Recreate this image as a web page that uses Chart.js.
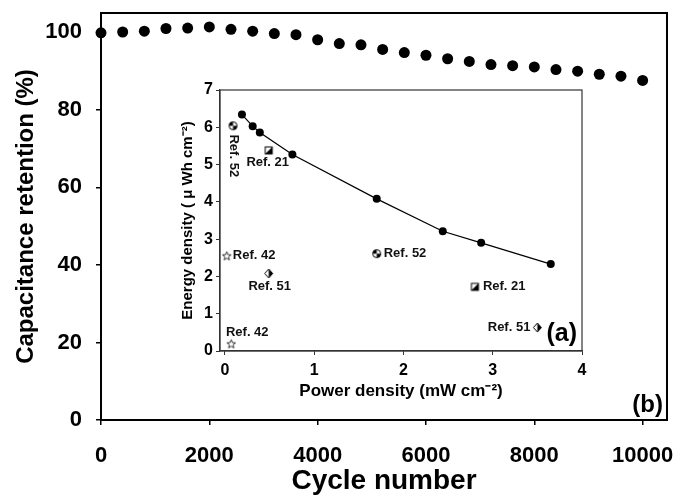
<!DOCTYPE html>
<html>
<head>
<meta charset="utf-8">
<script src="https://cdn.jsdelivr.net/npm/chart.js@4.4.1/dist/chart.umd.min.js"></script>
<style>
    body { margin: 0; background: #fff; }
    #main-box { position: absolute; left: 0; top: 0; width: 677px; height: 498px; }
    #inset-box { position: absolute; left: 160px; top: 80px; width: 430px; height: 330px; }
</style>
</head>
<body>
<div id="main-box"><canvas id="retention-chart"></canvas></div>
<div id="inset-box"><canvas id="ragone-chart"></canvas></div>
<script>
// main plot: capacitance retention vs cycle number
const cycles = [0, 400, 800, 1200, 1600, 2000, 2400, 2800, 3200, 3600, 4000, 4400, 4800,
    5200, 5600, 6000, 6400, 6800, 7200, 7600, 8000, 8400, 8800, 9200, 9600, 10000];
const retention = [99.9, 100.1, 100.3, 101.0, 101.1, 101.4, 100.8, 100.3, 99.7, 99.4, 98.1, 97.1, 96.8,
    95.6, 94.8, 94.1, 93.2, 92.5, 91.7, 91.4, 91.1, 90.4, 90.0, 89.2, 88.7, 87.6];
const cycleTicks = [0, 2000, 4000, 6000, 8000, 10000];
const retentionTicks = [0, 20, 40, 60, 80, 100];

// inset: energy density vs power density
const powerDensity = [0.19, 0.31, 0.39, 0.755, 1.70, 2.44, 2.87, 3.65];
const energyDensity = [6.34, 6.03, 5.86, 5.27, 4.08, 3.21, 2.90, 2.33];
const refNames = ['Ref. 52', 'Ref. 21', 'Ref. 42', 'Ref. 51', 'Ref. 42', 'Ref. 52', 'Ref. 21', 'Ref. 51'];
const refPower = [0.09, 0.49, 0.02, 0.49, 0.07, 1.70, 2.80, 3.50];
const refEnergy = [6.04, 5.38, 2.55, 2.08, 0.19, 2.61, 1.72, 0.63];
const refMarkers = ['ball', 'square', 'star', 'diamond', 'star', 'ball', 'square', 'diamond'];
const powerTicks = [0, 1, 2, 3, 4];
const energyTicks = [0, 1, 2, 3, 4, 5, 6, 7];

const FONT = "'Liberation Sans', Arial, sans-serif";

// where each ref label sits next to its marker (dx, dy, align, rotated)
const refLabelPlace = [
    { dx: 1, dy: 30, align: 'center', rot: true },
    { dx: -1, dy: 12, align: 'center' },
    { dx: 6, dy: 0, align: 'left' },
    { dx: 1, dy: 13, align: 'center' },
    { dx: 16, dy: -11, align: 'center' },
    { dx: 7, dy: 0, align: 'left' },
    { dx: 8, dy: 0, align: 'left' },
    { dx: -7, dy: 0, align: 'right' },
];

function makeMarker(kind) {
    const s = 11, m = s / 2;
    const c = document.createElement('canvas');
    c.width = s; c.height = s;
    const g = c.getContext('2d');
    g.strokeStyle = '#000';
    g.fillStyle = '#000';
    g.lineWidth = 1;
    if (kind === 'ball') {
        g.beginPath(); g.arc(m, m, 4, 0, Math.PI * 2); g.fillStyle = '#fff'; g.fill();
        g.fillStyle = '#000';
        g.beginPath(); g.moveTo(m, m); g.arc(m, m, 4, 0, Math.PI / 2); g.closePath(); g.fill();
        g.beginPath(); g.moveTo(m, m); g.arc(m, m, 4, Math.PI, Math.PI * 1.5); g.closePath(); g.fill();
        g.beginPath(); g.arc(m, m, 4, 0, Math.PI * 2); g.stroke();
    } else if (kind === 'square') {
        g.fillStyle = '#fff'; g.fillRect(2, 2, 7, 7);
        g.fillStyle = '#000';
        g.beginPath(); g.moveTo(9, 2); g.lineTo(9, 9); g.lineTo(2, 9); g.closePath(); g.fill();
        g.strokeRect(2, 2, 7, 7);
    } else if (kind === 'diamond') {
        g.beginPath(); g.moveTo(m, 1); g.lineTo(s - 1.5, m); g.lineTo(m, s - 1); g.lineTo(1.5, m); g.closePath();
        g.fillStyle = '#fff'; g.fill();
        g.fillStyle = '#000';
        g.beginPath(); g.moveTo(m, 1); g.lineTo(s - 1.5, m); g.lineTo(m, s - 1); g.closePath(); g.fill();
        g.beginPath(); g.moveTo(m, 1); g.lineTo(s - 1.5, m); g.lineTo(m, s - 1); g.lineTo(1.5, m); g.closePath(); g.stroke();
    } else {
        g.beginPath();
        for (let i = 0; i < 10; i++) {
            const r = i % 2 ? 2 : 4.5;
            const a = -Math.PI / 2 + i * Math.PI / 5;
            const px = m + r * Math.cos(a), py = m + 0.3 + r * Math.sin(a);
            i ? g.lineTo(px, py) : g.moveTo(px, py);
        }
        g.closePath();
        g.fillStyle = '#fff'; g.fill();
        g.lineWidth = 0.8; g.stroke();
    }
    return c;
}

// no automatic room for edge labels, layout padding decides the plot box
function noEdgePad(s) {
    s.paddingTop = 0; s.paddingBottom = 0; s.paddingLeft = 0; s.paddingRight = 0;
}

// full box around the plot area + panel letter
const frameBox = {
    id: 'frameBox',
    beforeDatasetsDraw(chart, args, opts) {
        const a = chart.chartArea, ctx = chart.ctx;
        ctx.save();
        ctx.strokeStyle = opts.color;
        ctx.lineWidth = opts.width;
        ctx.strokeRect(a.left, a.top, a.right - a.left, a.bottom - a.top);
        ctx.restore();
    },
    afterDatasetsDraw(chart, args, opts) {
        const a = chart.chartArea, ctx = chart.ctx;
        ctx.save();
        ctx.font = 'bold ' + opts.letterSize + 'px ' + FONT;
        ctx.fillStyle = '#000';
        ctx.textAlign = 'right';
        ctx.textBaseline = 'bottom';
        ctx.fillText(opts.letter, a.right - opts.letterDx, a.bottom - opts.letterDy);
        ctx.restore();
    }
};

const refLabels = {
    id: 'refLabels',
    afterDatasetsDraw(chart) {
        const meta = chart.getDatasetMeta(1);
        const ctx = chart.ctx;
        ctx.save();
        ctx.font = 'bold 13px ' + FONT;
        ctx.fillStyle = '#111';
        ctx.textBaseline = 'middle';
        meta.data.forEach((pt, i) => {
            const p = refLabelPlace[i];
            ctx.save();
            ctx.translate(pt.x + p.dx, pt.y + p.dy);
            if (p.rot) ctx.rotate(Math.PI / 2);
            ctx.textAlign = p.align;
            ctx.fillText(refNames[i], 0, 0);
            ctx.restore();
        });
        ctx.restore();
    }
};

new Chart(document.getElementById('retention-chart'), {
    type: 'scatter',
    data: {
        datasets: [{
            data: cycles.map((c, i) => ({ x: c, y: retention[i] })),
            backgroundColor: '#000',
            borderWidth: 0,
            pointRadius: 5.5,
            clip: false,
        }]
    },
    options: {
        responsive: true,
        maintainAspectRatio: false,
        animation: false,
        layout: { padding: { left: 12, top: 13, right: 10, bottom: 0 } },
        plugins: {
            legend: { display: false },
            tooltip: { enabled: false },
            frameBox: { color: '#000', width: 2, letter: '(b)', letterSize: 24, letterDx: 4, letterDy: 3 },
        },
        scales: {
            x: {
                type: 'linear', min: 0, max: 10450,
                afterFit: (s) => { s.height = 78; noEdgePad(s); },
                afterBuildTicks: (s) => { s.ticks = cycleTicks.map(v => ({ value: v })); },
                border: { display: true, color: '#000', width: 2 },
                grid: { drawOnChartArea: false, drawTicks: true, tickLength: 5, color: '#000', lineWidth: 1.5 },
                ticks: { padding: 18, color: '#000', font: { family: FONT, size: 22, weight: 'bold' }, maxRotation: 0, callback: v => String(v) },
                title: { display: true, text: 'Cycle number', color: '#000', font: { family: FONT, size: 28, weight: 'bold' }, padding: 0 },
            },
            y: {
                type: 'linear', min: 0, max: 105,
                afterFit: (s) => { s.width = 89; noEdgePad(s); },
                afterBuildTicks: (s) => { s.ticks = retentionTicks.map(v => ({ value: v })); },
                border: { display: true, color: '#000', width: 2 },
                grid: { drawOnChartArea: false, drawTicks: true, tickLength: 5, color: '#000', lineWidth: 1.5 },
                ticks: { padding: 14, color: '#000', font: { family: FONT, size: 22, weight: 'bold' }, callback: v => String(v) },
                title: { display: true, text: 'Capacitance retention (%)', color: '#000', font: { family: FONT, size: 24, weight: 'bold' }, padding: 0 },
            }
        }
    },
    plugins: [frameBox]
});

new Chart(document.getElementById('ragone-chart'), {
    type: 'scatter',
    data: {
        datasets: [
            {
                data: powerDensity.map((p, i) => ({ x: p, y: energyDensity[i] })),
                showLine: true,
                borderColor: '#000',
                borderWidth: 1.2,
                backgroundColor: '#000',
                pointRadius: 4,
                pointBorderWidth: 0,
                tension: 0,
            },
            {
                data: refPower.map((p, i) => ({ x: p, y: refEnergy[i] })),
                pointStyle: refMarkers.map(makeMarker),
                pointRadius: 5,
            }
        ]
    },
    options: {
        responsive: true,
        maintainAspectRatio: false,
        animation: false,
        layout: { padding: { left: 19, top: 10, right: 8, bottom: 8 } },
        plugins: {
            legend: { display: false },
            tooltip: { enabled: false },
            frameBox: { color: '#333', width: 1.2, letter: '(a)', letterSize: 25, letterDx: 5, letterDy: 4 },
        },
        scales: {
            x: {
                type: 'linear', min: -0.056, max: 4,
                afterFit: (s) => { s.height = 51; noEdgePad(s); },
                afterBuildTicks: (s) => { s.ticks = powerTicks.map(v => ({ value: v })); },
                border: { display: true, color: '#333', width: 1.2 },
                grid: { drawOnChartArea: false, drawTicks: true, tickLength: 4, color: '#333' },
                ticks: { padding: 6, color: '#000', font: { family: FONT, size: 16, weight: 'bold' }, maxRotation: 0 },
                title: { display: true, text: 'Power density (mW cm\u207B\u00B2)', color: '#000', font: { family: FONT, size: 17, weight: 'bold' }, padding: 0 },
            },
            y: {
                type: 'linear', min: 0, max: 7,
                afterFit: (s) => { s.width = 41; noEdgePad(s); },
                afterBuildTicks: (s) => { s.ticks = energyTicks.map(v => ({ value: v })); },
                border: { display: true, color: '#333', width: 1.2 },
                grid: { drawOnChartArea: false, drawTicks: true, tickLength: 4, color: '#333' },
                ticks: { padding: 3, color: '#000', font: { family: FONT, size: 16, weight: 'bold' } },
                title: { display: true, text: 'Energy density ( \u03BC Wh cm\u207B\u00B2)', color: '#000', font: { family: FONT, size: 15, weight: 'bold' }, padding: 0 },
            }
        }
    },
    plugins: [frameBox, refLabels]
});
</script>
</body>
</html>
